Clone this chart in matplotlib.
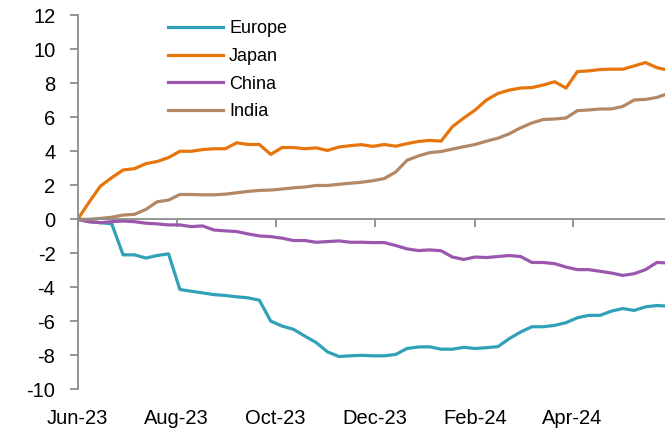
import numpy as np
import pandas as pd
import matplotlib
matplotlib.use("Agg")
from matplotlib import pyplot as plt
import matplotlib.transforms as mtransforms

plt.rcParams['font.family'] = ['Liberation Sans', 'DejaVu Sans']
plt.rcParams['axes.unicode_minus'] = False

# weekly cumulative values
dates = pd.date_range('2023-06-01', periods=53, freq='7D')

europe = [0, -0.14, -0.2, -0.27, -2.09, -2.09, -2.28, -2.13, -2.03, -4.13,
          -4.23, -4.33, -4.43, -4.48, -4.56, -4.62, -4.76, -5.99, -6.28, -6.47,
          -6.87, -7.25, -7.8, -8.07, -8.03, -8.0, -8.03, -8.03, -7.95, -7.6,
          -7.51, -7.5, -7.64, -7.64, -7.53, -7.6, -7.55, -7.49, -7.02, -6.63,
          -6.32, -6.32, -6.24, -6.08, -5.79, -5.65, -5.65, -5.4, -5.25, -5.36,
          -5.15, -5.07, -5.11]
japan = [0, 1.0, 1.95, 2.45, 2.9, 2.98, 3.27, 3.4, 3.63, 4.0,
         4.0, 4.1, 4.15, 4.15, 4.5, 4.4, 4.4, 3.82, 4.22, 4.22,
         4.15, 4.2, 4.05, 4.25, 4.33, 4.39, 4.29, 4.4, 4.3, 4.45,
         4.58, 4.64, 4.6, 5.45, 5.96, 6.43, 7.02, 7.4, 7.6, 7.72,
         7.75, 7.9, 8.09, 7.72, 8.69, 8.73, 8.81, 8.83, 8.83, 9.02,
         9.22, 8.92, 8.77]
china = [0, -0.14, -0.2, -0.14, -0.1, -0.14, -0.23, -0.27, -0.33, -0.33,
         -0.43, -0.39, -0.63, -0.68, -0.72, -0.86, -0.98, -1.02, -1.11, -1.25,
         -1.25, -1.35, -1.31, -1.27, -1.35, -1.35, -1.37, -1.37, -1.54, -1.74,
         -1.84, -1.8, -1.85, -2.22, -2.36, -2.22, -2.25, -2.19, -2.13, -2.19,
         -2.54, -2.54, -2.61, -2.81, -2.96, -2.96, -3.06, -3.16, -3.3, -3.2,
         -2.96, -2.54, -2.57]
india = [0, 0.0, 0.05, 0.12, 0.25, 0.29, 0.58, 1.03, 1.13, 1.46,
         1.46, 1.44, 1.44, 1.48, 1.56, 1.64, 1.7, 1.72, 1.78, 1.85,
         1.9, 1.99, 1.99, 2.06, 2.12, 2.18, 2.27, 2.4, 2.78, 3.47,
         3.73, 3.92, 3.99, 4.13, 4.27, 4.4, 4.6, 4.77, 5.03, 5.38,
         5.67, 5.87, 5.9, 5.96, 6.39, 6.43, 6.49, 6.49, 6.64, 7.02,
         7.05, 7.17, 7.4]

tick_dates = pd.to_datetime(['2023-06-01', '2023-08-01', '2023-10-01',
                             '2023-12-01', '2024-02-01', '2024-04-01'])
tick_labels = ['Jun-23', 'Aug-23', 'Oct-23', 'Dec-23', 'Feb-24', 'Apr-24']

fig = plt.figure(figsize=(6.65, 4.33), dpi=100)
ax = fig.add_axes([0.1168, 0.1009, 0.8832, 0.8638])

ax.plot(dates, europe, color='#31A1B7', lw=2.3, label='Europe')
ax.plot(dates, japan, color='#E8740C', lw=2.3, label='Japan')
ax.plot(dates, china, color='#9B56AD', lw=2.3, label='China')
ax.plot(dates, india, color='#B48765', lw=2.3, label='India')

ax.set_ylim(-10, 12)
ax.set_yticks(np.arange(-10, 13, 2))
ax.set_xlim(pd.Timestamp('2023-06-01'), pd.Timestamp('2024-05-28'))

for s in ['top', 'right']:
    ax.spines[s].set_visible(False)
ax.spines['left'].set_color('#8c8c8c')
ax.spines['left'].set_linewidth(1.3)
ax.spines['bottom'].set_position(('data', 0))
ax.spines['bottom'].set_color('#8c8c8c')
ax.spines['bottom'].set_linewidth(1.3)

ax.set_xticks(tick_dates)
ax.tick_params(axis='x', direction='out', length=5.5, width=1.3,
               color='#8c8c8c', labelbottom=False)
ax.tick_params(axis='y', direction='out', length=5.5, width=1.3,
               color='#8c8c8c', labelsize=14.5, pad=10.5)

# x labels sit at the bottom of the plot, not on the zero line
trans = mtransforms.blended_transform_factory(ax.transData, ax.transAxes)
for d, lab in zip(tick_dates, tick_labels):
    ax.text(d, -0.094, lab, transform=trans, ha='center', va='baseline',
            fontsize=14.5)

ax.legend(loc='upper left', bbox_to_anchor=(168 / 665, 1 - 20 / 433),
          bbox_transform=fig.transFigure, frameon=False, fontsize=13,
          handlelength=3.05, handletextpad=0.33, labelspacing=0.6,
          borderpad=0, borderaxespad=0)

fig.savefig('out.png', dpi=100)
